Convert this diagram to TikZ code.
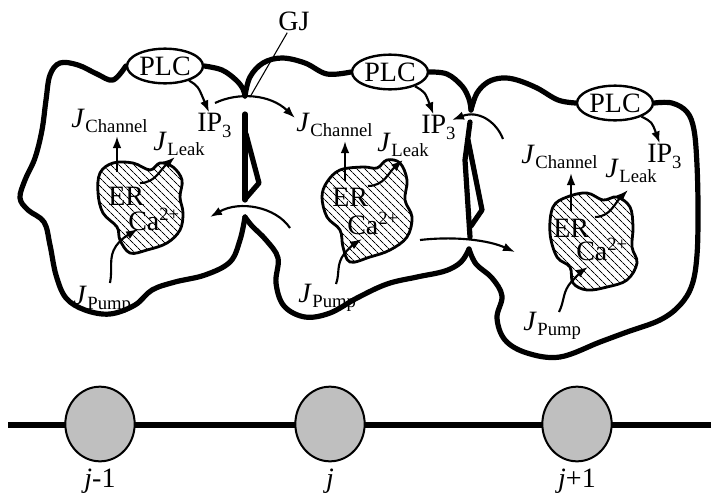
\documentclass[tikz,border=0pt]{standalone}
\usepackage{fontspec}
\setmainfont{Liberation Serif}
\usetikzlibrary{arrows.meta,patterns.meta,shapes.geometric}
\pgfdeclarelayer{back}
\pgfsetlayers{back,main}

\newcommand{\bigf}{\fontsize{21}{25}\selectfont}
\newcommand{\subf}{\fontsize{14}{17}\selectfont}
\newcommand{\Jlab}[1]{{\bigf\textit{J}}\kern0.5pt\raisebox{-4pt}{\subf #1}}
\newcommand{\IPlab}{{\bigf IP}\raisebox{-5pt}{\subf 3}}
\newcommand{\Calab}{{\bigf Ca}\raisebox{7pt}{\subf 2+}}

\begin{document}
\begin{tikzpicture}[x=0.75pt,y=-0.75pt,
  membrane/.style={line width=3.9pt,line join=round,line cap=round},
  plc/.style={ellipse,draw,line width=1.8pt,fill=white,minimum width=57pt,minimum height=26pt,inner sep=0pt,font=\bigf},
  er/.style={line width=2.1pt,pattern={Lines[angle=-45,distance=4pt,line width=0.7pt]}},
  flux/.style={line width=1.6pt,-{Latex[length=9pt,width=6.5pt]}},
  lbl/.style={inner sep=0pt,anchor=base west},
  txt/.style={inner sep=1.5pt,font=\bigf},
  site/.style={ellipse,draw,line width=1.5pt,fill=black!25,minimum width=52pt,minimum height=56pt,inner sep=0pt},
]
\useasboundingbox (0,0) rectangle (711,497);

% phospholipase C on each membrane
\node[plc] (plc1) at (165,66) {PLC};
\node[plc] (plc2) at (390,72) {PLC};
\node[plc] (plc3) at (615,103) {PLC};

% cell membranes
\begin{pgfonlayer}{back}
\draw[membrane] plot[smooth,tension=0.6] coordinates {(plc1.east) (222,70) (236,80) (243,89) (245,96)};
\draw[membrane] plot[smooth,tension=0.6] coordinates {(245,217) (240,240) (230,262) (205,275) (175,282) (152,290) (135,305) (110,314) (85,310) (66,298) (56,275) (50,245) (44,222) (28,210) (20,198) (25,180) (35,158) (42,130) (46,100) (50,75) (60,63) (78,65) (97,74) (113,80) (plc1.west)};
\draw[membrane] plot[smooth,tension=0.6] coordinates {(245,96) (250,77) (263,63) (282,58) (305,63) (327,74) (plc2.west)};
\draw[membrane] plot[smooth,tension=0.6] coordinates {(plc2.east) (447,74) (462,86) (469,99) (471,110)};
\draw[membrane] plot[smooth,tension=0.6] coordinates {(245,217) (252,226) (266,240) (278,258) (276,283) (284,306) (305,317) (330,313) (357,298) (387,284) (417,277) (445,271) (461,262) (469,249)};
\draw[membrane] plot[smooth,tension=0.6] coordinates {(471,110) (477,93) (488,82) (502,78) (517,80) (537,88) (558,100) (plc3.west)};
\draw[membrane] plot[smooth,tension=0.6] coordinates {(plc3.east) (672,103) (687,112) (694,130) (697,165) (698,210) (697,255) (692,285) (680,305) (660,320) (627,332) (600,342) (560,357) (527,353) (505,340) (497,318) (502,296) (492,278) (476,264) (469,249)};
% junction walls
\draw[membrane] (245,114) -- (245,200);
\draw[membrane] (246,134) -- (259,183) -- (246,198);
\draw[membrane] (470,122) -- (465,160) -- (470,237);
\draw[membrane] (468,140) -- (482,210) -- (471,226);
\end{pgfonlayer}

% endoplasmic reticulum
\draw[er] plot[smooth cycle,tension=0.6] coordinates {(100,173) (113,163) (133,163) (150,170) (160,163) (173,167) (182,180) (180,197) (183,213) (180,230) (167,243) (147,250) (130,253) (120,240) (117,227) (103,213) (98,193)};
\draw[er] plot[smooth cycle,tension=0.6] coordinates {(327,182) (340,170) (363,167) (377,168) (387,160) (400,163) (407,180) (405,200) (412,217) (407,237) (390,250) (370,257) (350,262) (343,247) (340,230) (327,217) (322,197)};
\draw[er] plot[smooth cycle,tension=0.6] coordinates {(553,207) (567,197) (587,193) (603,200) (617,197) (630,207) (633,227) (632,247) (637,263) (627,280) (607,287) (587,290) (573,283) (570,267) (557,257) (550,233)};

% labels, cell j-1
\node[lbl] (jc1) at (71,127) {\Jlab{Channel}};
\node[lbl] (jl1) at (153,150) {\Jlab{Leak}};
\node[lbl] (jp1) at (73,304) {\Jlab{Pump}};
\node[lbl] (ip1) at (197,131) {\IPlab};
\node[lbl] (er1) at (108,205) {\bigf ER};
\node[lbl] (ca1) at (128,230) {\Calab};
% labels, cell j
\node[lbl] (jc2) at (296,131) {\Jlab{Channel}};
\node[lbl] (jl2) at (377,151) {\Jlab{Leak}};
\node[lbl] (jp2) at (298,302) {\Jlab{Pump}};
\node[lbl] (ip2) at (421,133) {\IPlab};
\node[lbl] (er2) at (332,206) {\bigf ER};
\node[lbl] (ca2) at (347,234) {\Calab};
% labels, cell j+1
\node[lbl] (jc3) at (521,163) {\Jlab{Channel}};
\node[lbl] (jl3) at (605,177) {\Jlab{Leak}};
\node[lbl] (jp3) at (523,330) {\Jlab{Pump}};
\node[lbl] (ip3) at (647,162) {\IPlab};
\node[lbl] (er3) at (553,237) {\bigf ER};
\node[lbl] (ca3) at (576,260) {\Calab};

% IP3 production
\draw[flux] (plc1) .. controls (198,86) .. (ip1);
\draw[flux] (plc2) .. controls (425,92) .. (ip2);
\draw[flux] (plc3) .. controls (652,122) .. (ip3);

% calcium fluxes
\coordinate (ch1a) at (117,172); \coordinate (ch1b) at (117,136);
\coordinate (ch2a) at (345,181); \coordinate (ch2b) at (345,141);
\coordinate (ch3a) at (571,211); \coordinate (ch3b) at (571,173);
\draw[flux] (ch1a) -- (ch1b);
\draw[flux] (ch2a) -- (ch2b);
\draw[flux] (ch3a) -- (ch3b);
\coordinate (lk1a) at (140,183); \coordinate (lk1b) at (175,157);
\coordinate (lk2a) at (368,186); \coordinate (lk2b) at (403,160);
\coordinate (lk3a) at (595,217); \coordinate (lk3b) at (628,190);
\draw[flux] (lk1a) .. controls (155,183) and (160,170) .. (lk1b);
\draw[flux] (lk2a) .. controls (384,186) and (389,172) .. (lk2b);
\draw[flux] (lk3a) .. controls (610,217) and (615,203) .. (lk3b);
\coordinate (pm1a) at (110,283); \coordinate (pm1m) at (116,246); \coordinate (pm1b) at (138,229);
\coordinate (pm2a) at (336,284); \coordinate (pm2m) at (344,254); \coordinate (pm2b) at (362,239);
\coordinate (pm3a) at (559,312); \coordinate (pm3m) at (572,281); \coordinate (pm3b) at (588,267);
\draw[flux] (pm1a) .. controls (113,268) and (108,258) .. (pm1m) .. controls (122,238) and (128,235) .. (pm1b);
\draw[flux] (pm2a) .. controls (340,273) and (336,265) .. (pm2m) .. controls (350,247) and (354,244) .. (pm2b);
\draw[flux] (pm3a) .. controls (565,300) and (562,292) .. (pm3m) .. controls (578,275) and (582,271) .. (pm3b);

% IP3 diffusion through gap junctions
\coordinate (g1a) at (215,103); \coordinate (g1b) at (295,118);
\coordinate (g2a) at (290,228); \coordinate (g2b) at (210,217);
\coordinate (g3a) at (503,139); \coordinate (g3b) at (452,120);
\coordinate (g4a) at (420,240); \coordinate (g4b) at (515,252);
\draw[flux] (g1a) .. controls (238,92) and (270,94) .. (g1b);
\draw[flux] (g2a) .. controls (276,207) and (240,200) .. (g2b);
\draw[flux] (g3a) .. controls (496,121) and (478,110) .. (g3b);
\draw[flux] (g4a) .. controls (455,236) and (488,240) .. (g4b);

\node[txt] (gj) at (294,21) {GJ};
\coordinate (gjtip) at (250,97);
\draw[line width=0.8pt] (gj) -- (gjtip);

% lattice of cells
\coordinate (axl) at (8,425); \coordinate (axr) at (711,425);
\draw[line width=3.8pt] (axl) -- (axr);
\node[site] (s1) at (100,424) {};
\node[site] (s2) at (330,424) {};
\node[site] (s3) at (577,424) {};
\node[txt,anchor=base] (n1) at (100,487) {\textit{j}-1};
\node[txt,anchor=base] (n2) at (330,487) {\textit{j}};
\node[txt,anchor=base] (n3) at (577,487) {\textit{j}+1};
\end{tikzpicture}
\end{document}
